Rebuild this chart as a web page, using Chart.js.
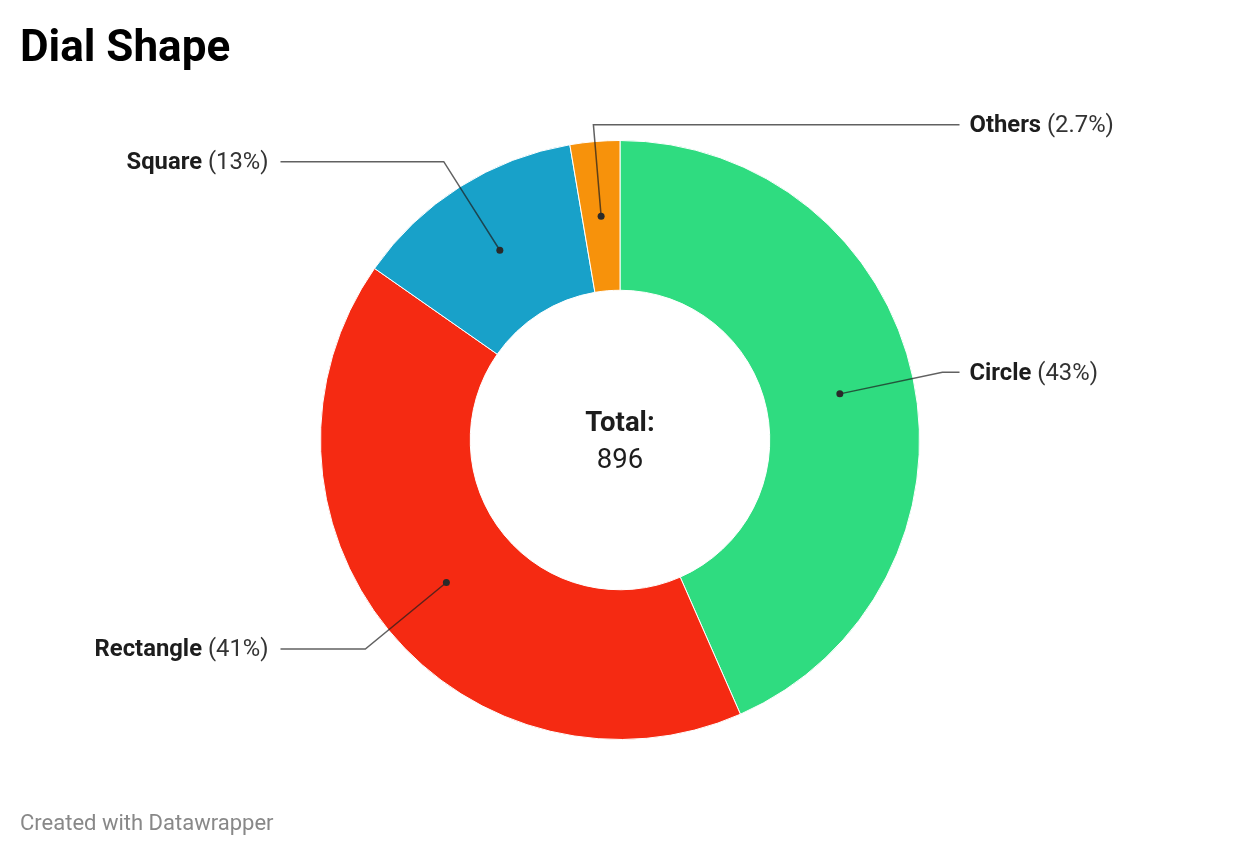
<!DOCTYPE html>
<html>
<head>
<meta charset="utf-8">
<script src="https://cdn.jsdelivr.net/npm/chart.js@4.4.1/dist/chart.umd.min.js"></script>
<style>
  html, body { margin: 0; padding: 0; background: #ffffff; }
  body { width: 1240px; height: 856px; position: relative; overflow: hidden; font-family: Roboto, "Noto Sans", sans-serif; }
  #title { position: absolute; left: 20px; top: 16px; margin: 0; font-size: 44px; font-weight: 700; color: #000; line-height: 60px; }
  #footer { position: absolute; left: 20px; top: 808px; font-size: 22px; color: #888888; line-height: 30px; }
  #wrap { position: absolute; left: 0; top: 0; width: 1240px; height: 856px; }
</style>
</head>
<body>
<div id="wrap"><canvas id="c"></canvas></div>
<h1 id="title">Dial Shape</h1>
<div id="footer">Created with Datawrapper</div>
<script>
const categories = ["Circle", "Rectangle", "Square", "Others"];
const counts = [389, 370, 113, 24];
const colors = ["#2fdc80", "#f52a12", "#18a1c9", "#f7920b"];
const centerLabel = "Total:";

const total = counts.reduce((a, b) => a + b, 0);
function fmtPct(v) {
  const p = v / total * 100;
  return (p < 10 ? p.toFixed(1) : Math.round(p).toString()) + "%";
}

const LABEL_FONT = 23.8;

const labelPlugin = {
  id: "dwLabels",
  afterDraw(chart) {
    const ctx = chart.ctx;
    const meta = chart.getDatasetMeta(0);
    ctx.save();
    // center total
    const a0 = meta.data[0];
    const cx = a0.x, cy = a0.y;
    ctx.fillStyle = "#1d1d1d";
    ctx.textAlign = "center";
    ctx.textBaseline = "middle";
    ctx.font = "700 27.5px Roboto";
    ctx.fillText(centerLabel, cx, cy - 16);
    ctx.font = "400 27.5px Roboto";
    ctx.fillText(String(total), cx, cy + 21);

    meta.data.forEach((arc, i) => {
      const p = arc.getProps(["x", "y", "startAngle", "endAngle", "innerRadius", "outerRadius"], true);
      const mid = (p.startAngle + p.endAngle) / 2;
      const rDot = (p.innerRadius + p.outerRadius) / 2;
      const dx = Math.cos(mid), dy = Math.sin(mid);
      const dotX = p.x + dx * rDot, dotY = p.y + dy * rDot;
      let rEl = p.outerRadius * 1.1;
      let elY = p.y + dy * rEl;
      const minY = p.y - p.outerRadius * 1.053;
      if (elY < minY) { rEl = (minY - p.y) / dy; elY = minY; }
      const elX = p.x + dx * rEl;
      const right = dx >= -0.2;
      const endX = right ? p.x + p.outerRadius + 40 : p.x - p.outerRadius - 40;

      ctx.strokeStyle = "rgba(30,30,30,0.7)";
      ctx.lineWidth = 1.5;
      ctx.beginPath();
      ctx.moveTo(dotX, dotY);
      ctx.lineTo(elX, elY);
      ctx.lineTo(endX, elY);
      ctx.stroke();

      ctx.fillStyle = "#2a2a2a";
      ctx.beginPath();
      ctx.arc(dotX, dotY, 3.5, 0, Math.PI * 2);
      ctx.fill();

      const name = categories[i];
      const pct = " (" + fmtPct(counts[i]) + ")";
      ctx.textBaseline = "middle";
      ctx.textAlign = "left";
      ctx.font = "700 " + LABEL_FONT + "px Roboto";
      const wName = ctx.measureText(name).width;
      ctx.font = "400 " + LABEL_FONT + "px Roboto";
      const wPct = ctx.measureText(pct).width;
      const tx = right ? endX + 10 : endX - 12 - wName - wPct;
      const ty = elY + 1.5;
      ctx.fillStyle = "#1d1d1d";
      ctx.font = "700 " + LABEL_FONT + "px Roboto";
      ctx.fillText(name, tx, ty);
      ctx.fillStyle = "#333333";
      ctx.font = "400 " + LABEL_FONT + "px Roboto";
      ctx.fillText(pct, tx + wName, ty);
    });
    ctx.restore();
  }
};

new Chart(document.getElementById("c"), {
  type: "doughnut",
  data: {
    labels: categories,
    datasets: [{
      data: counts,
      backgroundColor: colors,
      borderColor: "#ffffff",
      borderWidth: 1,
      hoverOffset: 0
    }]
  },
  options: {
    responsive: true,
    maintainAspectRatio: false,
    animation: false,
    cutout: "50%",
    layout: { padding: { top: 140, bottom: 116, left: 320, right: 320 } },
    plugins: { legend: { display: false }, tooltip: { enabled: false } }
  },
  plugins: [labelPlugin]
});
</script>
</body>
</html>
